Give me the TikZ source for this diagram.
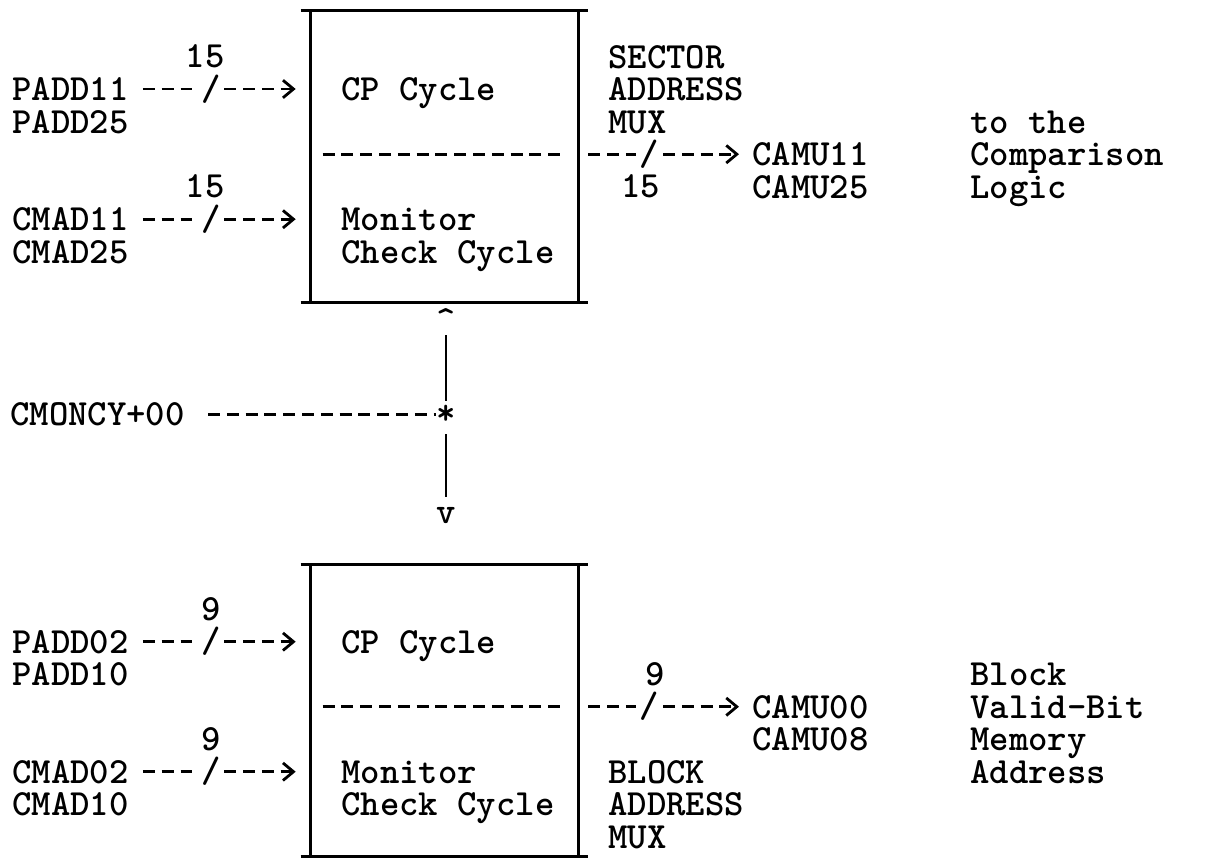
\documentclass[tikz,border=0pt]{standalone}
\usepackage{tikz}
\usetikzlibrary{arrows.meta}

\begin{document}
\begin{tikzpicture}[x=0.02cm,y=-0.02cm,
    font=\ttfamily\bfseries\fontsize{21}{25}\selectfont,
    every node/.style={inner sep=0pt},
    txt/.style={anchor=base west},
    frame/.style={line width=1.5pt},
    dashln/.style={line width=1.6pt,dash pattern=on 6.8pt off 3.9pt},
    bus/.style={dashln,-{Straight Barb[length=6pt,width=10pt,line width=1.6pt]}},
    slash/.style={pos=#1,inner sep=2pt},
    slash/.default=.45,
    buswd/.style={pos=#1}]
  \useasboundingbox (0,0) rectangle (1207,859);

  \node[minimum width=5.34cm,minimum height=5.82cm] (addrbox) at (444.5,156.5) {};
  \node[minimum width=5.34cm,minimum height=5.82cm] (blockbox) at (444.5,710.5) {};
  \foreach \b in {addrbox,blockbox} {
    \draw[frame] (\b.north west) -- (\b.south west) (\b.north east) -- (\b.south east);
    \draw[frame] ([xshift=-0.2cm]\b.north west) -- ([xshift=0.2cm]\b.north east)
                 ([xshift=-0.2cm]\b.south west) -- ([xshift=0.2cm]\b.south east);
  }

  % sector address mux
  \node[txt] (padda) at (12,100.5) {PADD11};
  \node[txt] (paddb) at (12,133) {PADD25};
  \node[txt] (cmada) at (12,230.5) {CMAD11};
  \node[txt] (cmadb) at (12,263) {CMAD25};
  \node[txt] (cpa) at (341,100.5) {CP Cycle};
  \node[txt] (mona) at (341,230.5) {Monitor};
  \node[txt] (chka) at (341,263) {Check Cycle};
  \node[txt] (sect) at (608,68) {SECTOR};
  \node[txt] (secaddr) at (608,100.5) {ADDRESS};
  \node[txt] (secmux) at (608,133) {MUX};
  \node[txt] (camuhi) at (752,165.5) {CAMU11};
  \node[txt] (camulo) at (752,198) {CAMU25};
  \node[txt] (tothe) at (970,133) {to the};
  \node[txt] (compar) at (970,165.5) {Comparison};
  \node[txt] (logic) at (970,198) {Logic};

  \path (padda.east) -- (padda.east -| addrbox.west) node[slash] (sla) {/}
    node[buswd=.42,yshift=0.65cm] {15};
  \draw[dashln,shorten <=0.28cm] (padda.east) -- (sla.west);
  \draw[bus,shorten >=0.3cm] (sla.east) -- (padda.east -| addrbox.west);
  \path (cmada.east) -- (cmada.east -| addrbox.west) node[slash] (slb) {/}
    node[buswd=.42,yshift=0.65cm] {15};
  \draw[dashln,shorten <=0.28cm] (cmada.east) -- (slb.west);
  \draw[bus,shorten >=0.3cm] (slb.east) -- (cmada.east -| addrbox.west);
  \draw[dashln,shorten <=0.24cm,shorten >=0.26cm] (camuhi.west -| addrbox.west) -- (camuhi.west -| addrbox.east);
  \path (camuhi.west -| addrbox.east) -- (camuhi.west) node[slash=.41] (slc) {/}
    node[buswd=.36,yshift=-0.65cm] {15};
  \draw[dashln,shorten <=0.2cm] (camuhi.west -| addrbox.east) -- (slc.west);
  \draw[bus,shorten >=0.26cm] (slc.east) -- (camuhi.west);

  % monitor cycle select
  \node (caret) at (446,320) {\textasciicircum};
  \node (star) at (446,415) {*};
  \node (vee) at (446,516) {v};
  \node[txt] (cmoncy) at (10,425.5) {CMONCY+00};
  \draw[dashln,shorten <=0.46cm] (cmoncy.east) -- (cmoncy.east -| star.west);
  \draw[frame,shorten <=0.3cm,shorten >=0.28cm] (caret.center) -- (star.center);
  \draw[frame,shorten <=0.38cm,shorten >=0.38cm] (star.center) -- (vee.center);

  % block address mux
  \node[txt] (paddc) at (12,653) {PADD02};
  \node[txt] (paddd) at (12,685.5) {PADD10};
  \node[txt] (cmadc) at (12,783) {CMAD02};
  \node[txt] (cmadd) at (12,815.5) {CMAD10};
  \node[txt] (cpb) at (341,653) {CP Cycle};
  \node[txt] (monb) at (341,783) {Monitor};
  \node[txt] (chkb) at (341,815.5) {Check Cycle};
  \node[txt] (blk) at (608,783) {BLOCK};
  \node[txt] (blkaddr) at (608,815.5) {ADDRESS};
  \node[txt] (blkmux) at (608,848) {MUX};
  \node[txt] (camuvb) at (752,718) {CAMU00};
  \node[txt] (camuve) at (752,750.5) {CAMU08};
  \node[txt] (vbblock) at (970,685.5) {Block};
  \node[txt] (vbvalid) at (970,718) {Valid-Bit};
  \node[txt] (vbmem) at (970,750.5) {Memory};
  \node[txt] (vbaddr) at (970,783) {Address};

  \path (paddc.east) -- (paddc.east -| blockbox.west) node[slash] (sld) {/}
    node[buswd=.45,yshift=0.65cm] {9};
  \draw[dashln,shorten <=0.28cm] (paddc.east) -- (sld.west);
  \draw[bus,shorten >=0.3cm] (sld.east) -- (paddc.east -| blockbox.west);
  \path (cmadc.east) -- (cmadc.east -| blockbox.west) node[slash] (sle) {/}
    node[buswd=.45,yshift=0.65cm] {9};
  \draw[dashln,shorten <=0.28cm] (cmadc.east) -- (sle.west);
  \draw[bus,shorten >=0.3cm] (sle.east) -- (cmadc.east -| blockbox.west);
  \draw[dashln,shorten <=0.24cm,shorten >=0.26cm] (camuvb.west -| blockbox.west) -- (camuvb.west -| blockbox.east);
  \path (camuvb.west -| blockbox.east) -- (camuvb.west) node[slash=.41] (slf) {/}
    node[buswd=.44,yshift=0.65cm] {9};
  \draw[dashln,shorten <=0.2cm] (camuvb.west -| blockbox.east) -- (slf.west);
  \draw[bus,shorten >=0.26cm] (slf.east) -- (camuvb.west);
\end{tikzpicture}
\end{document}
